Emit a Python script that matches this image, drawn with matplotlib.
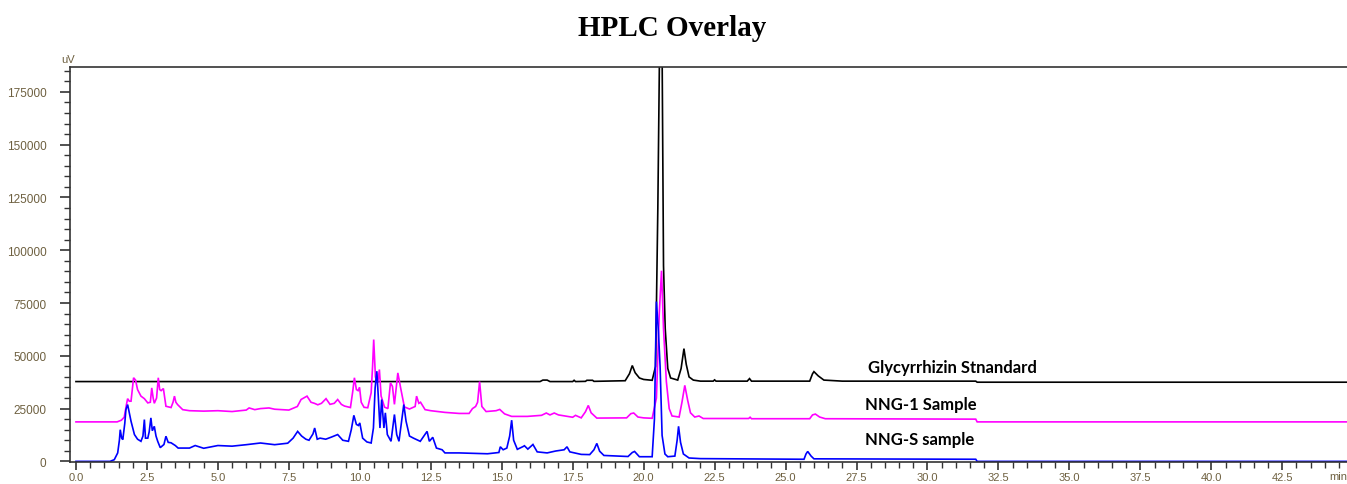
import numpy as np
import matplotlib
matplotlib.use('Agg')
import matplotlib.pyplot as plt
from matplotlib.ticker import MultipleLocator, FormatStrFormatter

# --- данные (время, мин / сигнал, uV) --- #

std_t = [0, 16.35, 16.45, 16.6, 16.7, 17.5, 17.55, 17.6, 17.95, 18.0, 18.2, 18.25, 19.35, 19.5, 19.6,
         19.7, 19.85, 20.0, 20.3, 20.42, 20.5, 20.56, 20.65, 20.7, 20.76, 20.85, 20.95, 21.2, 21.32,
         21.42, 21.5, 21.6, 21.75, 22.0, 22.45, 22.5, 22.55, 23.65, 23.73, 23.8, 25.85, 25.95, 26.0,
         26.15, 26.35, 27.0, 31.7, 31.75, 44.8]
std_v = [37800, 37800, 38500, 38500, 37800, 37800, 38400, 37800, 37900, 38400, 38400, 37900, 38200,
         41500, 45400, 42000, 39500, 38800, 38400, 45000, 120000, 195000, 195000, 92700, 62900, 44000,
         39500, 38500, 44000, 53400, 46000, 40000, 38500, 38000, 38000, 38600, 38000, 38000, 39200,
         38000, 38000, 41500, 42500, 40500, 38500, 38000, 38000, 37500, 37500]

nng1_t = [0, 1.45, 1.6, 1.7, 1.78, 1.82, 1.88, 1.94, 2.0, 2.03, 2.1, 2.17, 2.29, 2.41, 2.53, 2.62,
          2.67, 2.72, 2.76, 2.84, 2.9, 2.95, 3.0, 3.08, 3.17, 3.35, 3.42, 3.47, 3.52, 3.58, 3.76, 4.0,
          4.5, 5.0, 5.5, 6.0, 6.1, 6.3, 6.5, 6.8, 7.0, 7.5, 7.8, 7.93, 8.14, 8.28, 8.4, 8.52, 8.65,
          8.81, 8.95, 9.1, 9.22, 9.35, 9.46, 9.67, 9.75, 9.81, 9.88, 9.94, 9.99, 10.05, 10.15, 10.28,
          10.4, 10.45, 10.49, 10.55, 10.63, 10.69, 10.75, 10.87, 10.99, 11.08, 11.15, 11.22, 11.34,
          11.45, 11.57, 11.75, 11.95, 12.0, 12.08, 12.14, 12.3, 12.5, 13.0, 13.5, 13.85, 13.97, 14.08,
          14.15, 14.22, 14.3, 14.45, 14.8, 14.93, 15.1, 15.35, 15.9, 16.4, 16.57, 16.7, 16.85, 17.0,
          17.5, 17.6, 17.8, 17.95, 18.05, 18.15, 18.35, 19.4, 19.55, 19.65, 19.8, 20.0, 20.3, 20.45,
          20.55, 20.63, 20.7, 20.8, 20.9, 21.0, 21.25, 21.35, 21.45, 21.55, 21.65, 21.8, 21.95, 22.1,
          23.7, 23.75, 23.8, 25.85, 25.95, 26.05, 26.2, 26.4, 31.7, 31.75, 44.8]
nng1_v = [18700, 18700, 19500, 20900, 27000, 29700, 28500, 28500, 36000, 39600, 38500, 34000, 30900,
          29700, 27700, 28000, 34800, 30000, 27500, 30000, 39600, 34000, 33500, 34500, 26100, 25500,
          28000, 30900, 28000, 26900, 24500, 24000, 23800, 24000, 23600, 24300, 25300, 24500, 25000,
          25300, 24700, 24300, 26000, 29300, 30900, 28000, 27500, 26800, 27500, 29700, 27000, 27500,
          29300, 27000, 26200, 25500, 33000, 39600, 34000, 33500, 35100, 28000, 25600, 25400, 32500,
          45000, 57700, 40000, 37200, 43500, 31000, 25700, 25000, 37200, 35500, 27000, 41900, 34000,
          25800, 24800, 26000, 30900, 27500, 28000, 24500, 24000, 23200, 22700, 22700, 25000, 26000,
          28000, 37800, 26000, 23600, 24000, 24600, 22500, 21300, 21300, 21800, 22900, 22000, 22900,
          22000, 20900, 21800, 20600, 23500, 26500, 23000, 20500, 20600, 22600, 22900, 21000, 20600,
          20400, 30000, 70000, 90300, 62900, 37800, 25000, 21500, 21000, 28000, 36000, 29000, 23000,
          21000, 21500, 20300, 20300, 20900, 20200, 20200, 22000, 22400, 21000, 20200, 20000, 18700,
          18700]

nngs_t = [0, 1.2, 1.35, 1.47, 1.53, 1.56, 1.61, 1.65, 1.72, 1.76, 1.82, 1.88, 1.94, 2.06, 2.17, 2.29,
          2.36, 2.41, 2.45, 2.53, 2.58, 2.64, 2.69, 2.76, 2.82, 2.88, 2.97, 3.1, 3.17, 3.25, 3.35, 3.5,
          3.6, 4.0, 4.2, 4.5, 5.0, 5.5, 6.0, 6.5, 7.0, 7.46, 7.65, 7.81, 7.95, 8.1, 8.21, 8.35, 8.41,
          8.5, 8.6, 8.8, 9.0, 9.22, 9.4, 9.6, 9.7, 9.79, 9.88, 9.95, 10.0, 10.1, 10.25, 10.4, 10.48,
          10.54, 10.6, 10.65, 10.71, 10.77, 10.85, 10.9, 10.97, 11.1, 11.22, 11.3, 11.38, 11.55, 11.63,
          11.75, 11.89, 12.13, 12.37, 12.45, 12.57, 12.7, 12.9, 13.0, 13.5, 14.5, 14.9, 14.95, 15.05,
          15.18, 15.28, 15.35, 15.42, 15.55, 15.75, 15.8, 15.92, 16.1, 16.25, 16.6, 16.9, 17.2, 17.3,
          17.4, 17.8, 18.1, 18.25, 18.35, 18.45, 18.6, 19.45, 19.6, 19.68, 19.85, 20.3, 20.38, 20.45,
          20.52, 20.58, 20.65, 20.75, 20.85, 21.1, 21.18, 21.23, 21.3, 21.4, 21.6, 22.0, 25.65, 25.72,
          25.78, 25.9, 26.0, 31.7, 31.75, 44.8]
nngs_v = [0, 0, 800, 4000, 10000, 15000, 11000, 10300, 18000, 24500, 26900, 23000, 19000, 12700,
          10500, 9500, 12000, 19800, 11000, 11000, 14000, 20600, 14500, 16600, 12000, 9500, 6500, 8000,
          11900, 9000, 8800, 7500, 6300, 6300, 7500, 6200, 7500, 7200, 7900, 8700, 7900, 8600, 11000,
          14200, 12000, 10500, 10000, 13000, 15800, 10500, 11000, 10500, 11500, 12700, 10000, 9500,
          15000, 21800, 17500, 17000, 18200, 11000, 9200, 8700, 15800, 34800, 42700, 31000, 15800,
          29300, 15800, 23000, 12700, 9500, 22200, 12700, 9500, 26900, 19000, 12000, 11000, 9500,
          14200, 9500, 11400, 6300, 5500, 4000, 4000, 3600, 4200, 6900, 5500, 6300, 12000, 19500,
          10000, 5700, 7000, 7400, 5800, 8000, 4500, 4000, 4900, 5500, 6900, 4500, 3300, 3200, 5500,
          8500, 4800, 2800, 2300, 4200, 4700, 2200, 2200, 20000, 75700, 61500, 45000, 12300, 3500,
          2200, 2500, 10000, 16600, 9000, 3500, 1600, 1300, 1000, 3500, 4700, 2500, 1200, 1000, 0, 0]

trace_names = ['Glycyrrhizin Stnandard', 'NNG-1 Sample', 'NNG-S sample']
trace_colors = ['#000000', '#ff00ff', '#0000ff']

# ------------------------------------------------------------- #

fig = plt.figure(figsize=(13.47, 4.85), dpi=100)
ax = fig.add_axes([70 / 1347, 1 - 463 / 485, 1 - 70 / 1347, (463 - 68) / 485])

series = [(std_t, std_v), (nng1_t, nng1_v), (nngs_t, nngs_v)]
for (t, v), c in zip(series, trace_colors):
    ax.plot(t, v, color=c, lw=1.2, solid_joinstyle='miter')

ax.set_xlim(-0.21, 44.78)
ax.set_ylim(-300, 186800)

ax.xaxis.set_minor_locator(MultipleLocator(0.5))
ax.yaxis.set_minor_locator(MultipleLocator(5000))
ax.set_xticks(np.arange(0, 45, 2.5))
ax.set_yticks(np.arange(0, 175001, 25000))
ax.xaxis.set_major_formatter(FormatStrFormatter('%.1f'))

lab_col = '#6e6040'
ax.tick_params(axis='both', which='major', width=1.2, color='#333333',
               labelsize=8.5, labelcolor=lab_col)
ax.tick_params(axis='both', which='minor', width=1.0, color='#333333')
ax.tick_params(axis='y', which='major', length=7, pad=10)
ax.tick_params(axis='y', which='minor', length=4)
ax.tick_params(axis='x', which='major', length=6, pad=1.5, labelsize=8)
ax.tick_params(axis='x', which='minor', length=4)
for lbl in ax.get_xticklabels() + ax.get_yticklabels():
    lbl.set_family('Liberation Sans')

ax.spines['right'].set_visible(False)
for s in ['left', 'bottom', 'top']:
    ax.spines[s].set_linewidth(1.2)
    ax.spines[s].set_color('#333333')

# подписи хроматограмм
ax.text(27.9, 44900, trace_names[0], fontsize=12, fontweight='bold', family='Lato', va='center')
ax.text(27.8, 27400, trace_names[1], fontsize=12, fontweight='bold', family='Lato', va='center')
ax.text(27.8, 10400, trace_names[2], fontsize=12, fontweight='bold', family='Lato', va='center')

fig.text(68 / 1347, 1 - 60 / 485, 'uV', fontsize=8, color=lab_col, family='Liberation Sans',
         ha='center', va='center')
fig.text(1338 / 1347, 1 - 477 / 485, 'min', fontsize=8, color=lab_col, family='Liberation Sans',
         ha='center', va='center')
fig.text(672 / 1347, 1 - 29 / 485, 'HPLC Overlay', fontsize=21, fontweight='bold',
         family='Liberation Serif', ha='center', va='center')

fig.savefig('out.png', dpi=100)
